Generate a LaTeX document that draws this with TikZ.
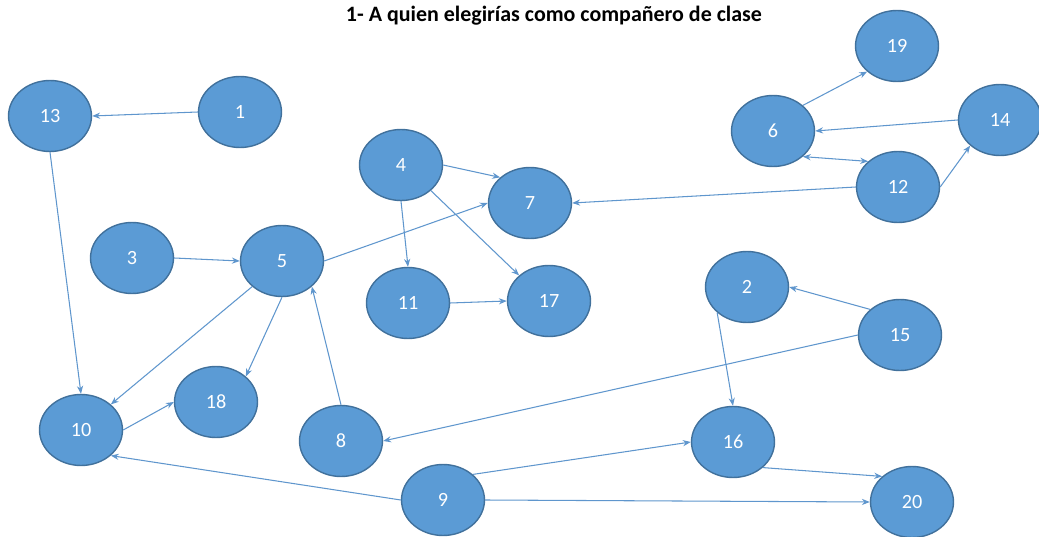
\documentclass[tikz,border=0pt]{standalone}
\usepackage{fontspec}
\setmainfont{Carlito}
\usetikzlibrary{shapes.geometric,arrows.meta}
\definecolor{nodeblue}{RGB}{91,155,213}
\definecolor{nodeedge}{RGB}{65,113,156}
\definecolor{linkblue}{RGB}{95,150,205}

\begin{document}
\begin{tikzpicture}[x=0.02cm, y=-0.02cm,
pupil/.style={ellipse, fill=nodeblue, draw=nodeedge, line width=0.8pt,
minimum width=1.66cm, minimum height=1.42cm, inner sep=0pt,
text=white, font=\fontsize{11.5}{13}\selectfont},
link/.style={-{Stealth[length=4.5pt,width=3.5pt]}, line width=0.6pt, draw=linkblue},
dlink/.style={{Stealth[length=4.5pt,width=3.5pt]}-{Stealth[length=4.5pt,width=3.5pt]}, line width=0.6pt, draw=linkblue}
]
\useasboundingbox (0,0) rectangle (1039,537);

\node[font=\bfseries\fontsize{12.5}{14}\selectfont] (title) at (554,16) {1- A quien elegirías como compañero de clase};

\node[pupil] (n13) at (50,116)  {13};
\node[pupil] (n1)  at (240,112) {1};
\node[pupil] (n19) at (897,46)  {19};
\node[pupil] (n6)  at (773,131) {6};
\node[pupil] (n14) at (1000,120) {14};
\node[pupil] (n12) at (898,187) {12};
\node[pupil] (n4)  at (401,165) {4};
\node[pupil] (n7)  at (530,203) {7};
\node[pupil] (n3)  at (132,258) {3};
\node[pupil] (n5)  at (282,261) {5};
\node[pupil] (n11) at (408,303) {11};
\node[pupil] (n17) at (549,301) {17};
\node[pupil] (n2)  at (747,287) {2};
\node[pupil] (n15) at (900,335) {15};
\node[pupil] (n10) at (81,430)  {10};
\node[pupil] (n18) at (216,402) {18};
\node[pupil] (n8)  at (341,441) {8};
\node[pupil] (n16) at (733,442) {16};
\node[pupil] (n9)  at (443,500) {9};
\node[pupil] (n20) at (912,502) {20};

\draw[link] (n1.west) -- (n13.east);
\draw[link] (n13.south) -- (n10.north);
\draw[link] (n6.north east) -- (n19.south west);
\draw[link] (n14.west) -- (n6.east);
\draw[dlink] (n6.south east) -- (n12.north west);
\draw[link] (n12.east) -- (n14.south west);
\draw[link] (n12.west) -- (n7.east);
\draw[link] (n4.east) -- (n7.north west);
\draw[link] (n4.south) -- (n11.north);
\draw[link] (n4.south east) -- (n17.north west);
\draw[link] (n11.east) -- (n17.west);
\draw[link] (n3.east) -- (n5.west);
\draw[link] (n5.east) -- (n7.west);
\draw[link] (n5.south west) -- (n10.north east);
\draw[link] (n5.south) -- (n18.north east);
\draw[link] (n8.north) -- (n5.south east);
\draw[link] (n10.east) -- (n18.west);
\draw[link] (n9.west) -- (n10.south east);
\draw[link] (n9.north east) -- (n16.west);
\draw[link] (n9.east) -- (n20.west);
\draw[link] (n16.south east) -- (n20.north west);
\draw[link] (n2.south west) -- (n16.north);
\draw[link] (n15.north west) -- (n2.east);
\draw[link] (n15.west) -- (n8.east);

\end{tikzpicture}
\end{document}
